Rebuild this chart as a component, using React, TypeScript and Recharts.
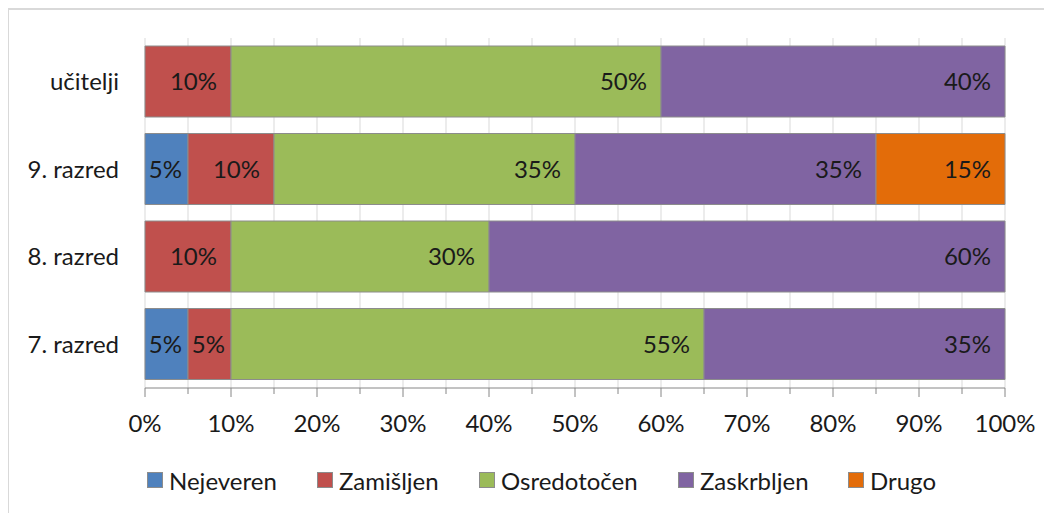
import React from 'react';
import { BarChart, Bar, XAxis, YAxis, CartesianGrid, Legend, LabelList } from 'recharts';

const categories = ['učitelji', '9. razred', '8. razred', '7. razred'];
const nejeveren = [0, 5, 0, 5];
const zamisljen = [10, 10, 10, 5];
const osredotocen = [50, 35, 30, 55];
const zaskrbljen = [40, 35, 60, 35];
const drugo = [0, 15, 0, 0];

const seriesNames = ['Nejeveren', 'Zamišljen', 'Osredotočen', 'Zaskrbljen', 'Drugo'];
const seriesKeys = ['nejeveren', 'zamisljen', 'osredotocen', 'zaskrbljen', 'drugo'];
const seriesColors = ['#4F81BD', '#C0504D', '#9BBB59', '#8064A2', '#E36C09'];
const xTicks = [0, 5, 10, 15, 20, 25, 30, 35, 40, 45, 50, 55, 60, 65, 70, 75, 80, 85, 90, 95, 100];

const data = categories.map((c, i) => ({
  name: c,
  nejeveren: nejeveren[i],
  zamisljen: zamisljen[i],
  osredotocen: osredotocen[i],
  zaskrbljen: zaskrbljen[i],
  drugo: drugo[i],
}));

const FONT = 'Lato, "Open Sans", sans-serif';
const TEXT = '#1a1a1a';
const legendLefts = [138, 308, 470, 669, 839];

const XTick = (props: any) => {
  const { x, y, payload } = props;
  const v = payload.value;
  const major = v % 10 === 0;
  return (
    <g>
      <line x1={x} x2={x} y1={y} y2={y + (major ? 9 : 6)} stroke="#868686" strokeWidth={1} />
      {major && (
        <text x={x} y={y + 35} dy="0.36em" textAnchor="middle" fontFamily={FONT} fontSize={24} fill={TEXT}>
          {v + '%'}
        </text>
      )}
    </g>
  );
};

const SegLabel = (props: any) => {
  const { x, y, width, height, value } = props;
  if (!value) return null;
  const off = width < 60 ? 6 : 14;
  return (
    <text
      x={x + width - off}
      y={y + height / 2}
      dy="0.36em"
      textAnchor="end"
      fontFamily={FONT}
      fontSize={24}
      fill={TEXT}
    >
      {value + '%'}
    </text>
  );
};

const renderLegend = () => (
  <div style={{ position: 'relative', width: 1042, height: 30, fontFamily: FONT, fontSize: 24, color: TEXT }}>
    {seriesNames.map((n, i) => (
      <div
        key={n}
        style={{ position: 'absolute', left: legendLefts[i], top: 0, height: 30, display: 'flex', alignItems: 'center', whiteSpace: 'nowrap' }}
      >
        <span
          style={{
            display: 'inline-block',
            width: 16,
            height: 16,
            background: seriesColors[i],
            border: '1px solid #8c8c8c',
            boxSizing: 'border-box',
            marginRight: 6,
          }}
        />
        <span>{n}</span>
      </div>
    ))}
  </div>
);

export default function App() {
  return (
    <div
      style={{
        position: 'relative',
        left: -1,
        width: 1044,
        height: 505,
        borderTop: '2px solid #d9d9d9',
        borderLeft: '2px solid #d9d9d9',
        boxSizing: 'border-box',
        background: '#fff',
      }}
    >
      <BarChart
        width={1042}
        height={503}
        data={data}
        layout="vertical"
        margin={{ top: 28, right: 46, bottom: 18, left: 0 }}
        barSize={71}
      >
        <CartesianGrid horizontal={false} stroke="#d9d9d9" strokeWidth={1} />
        <XAxis
          type="number"
          domain={[0, 100]}
          ticks={xTicks}
          interval={0}
          tickSize={0}
          tickMargin={0}
          height={77}
          axisLine={{ stroke: '#868686' }}
          tickLine={false}
          tick={<XTick />}
        />
        <YAxis
          type="category"
          dataKey="name"
          width={136}
          axisLine={false}
          tickLine={false}
          tickSize={0}
          tickMargin={26}
          tick={{ fontFamily: FONT, fontSize: 24, fill: TEXT }}
        />
        <Legend
          verticalAlign="bottom"
          content={renderLegend}
          wrapperStyle={{ left: 0, width: 1042 }}
        />
        {seriesKeys.map((k, i) => (
          <Bar
            key={k}
            dataKey={k}
            name={seriesNames[i]}
            stackId="a"
            fill={seriesColors[i]}
            stroke="#8c8c8c"
            strokeWidth={1}
            isAnimationActive={false}
          >
            <LabelList dataKey={k} content={<SegLabel />} />
          </Bar>
        ))}
      </BarChart>
    </div>
  );
}
